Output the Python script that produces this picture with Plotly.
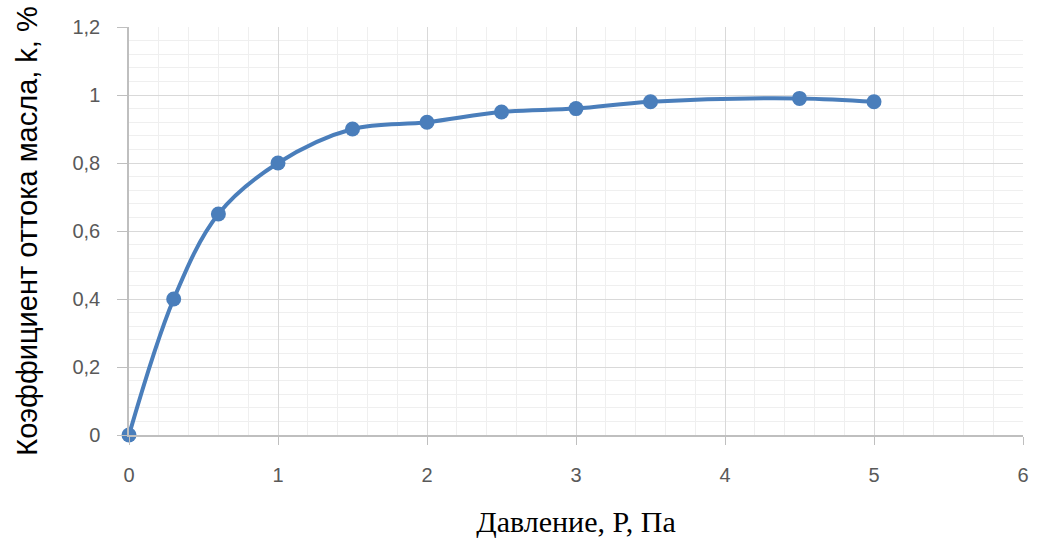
import plotly.graph_objects as go

pressure = [0, 0.3, 0.6, 1, 1.5, 2, 2.5, 3, 3.5, 4.5, 5]
coef_k = [0, 0.40, 0.65, 0.80, 0.90, 0.92, 0.95, 0.96, 0.98, 0.99, 0.98]

x_title = "Давление, P, Па"
y_title = "Коэффициент оттока масла, k, %"

blue = "#4a7ebb"

fig = go.Figure()
fig.add_trace(go.Scatter(
    x=pressure, y=coef_k, mode="lines+markers",
    line=dict(color=blue, width=4, shape="spline", smoothing=1.0),
    marker=dict(color=blue, size=15, symbol="circle"),
    showlegend=False, cliponaxis=False,
))

fig.update_layout(
    width=1037, height=542,
    margin=dict(l=129, r=8, t=27, b=107),
    paper_bgcolor="white", plot_bgcolor="white",
    separators=", ",
    font=dict(family="Liberation Sans, Arial", color="#595959", size=20),
)

fig.update_xaxes(
    range=[0, 6], dtick=1, tick0=0,
    showline=True, linecolor="#bfbfbf", linewidth=1.5,
    showgrid=True, gridcolor="#d9d9d9", gridwidth=1,
    ticks="outside", ticklen=8, tickcolor="#bfbfbf",
    ticklabelstandoff=13,
    minor=dict(dtick=0.2, showgrid=True, gridcolor="#efefef", gridwidth=1),
    zeroline=False,
    tickfont=dict(size=20, color="#595959"),
    title=dict(text=x_title, font=dict(family="Liberation Serif, Times New Roman", size=30, color="black"), standoff=26),
)
fig.update_yaxes(
    range=[0, 1.2], dtick=0.2, tick0=0,
    showline=True, linecolor="#bfbfbf", linewidth=1.5,
    showgrid=True, gridcolor="#d9d9d9", gridwidth=1,
    ticks="outside", ticklen=10, tickcolor="#bfbfbf",
    ticklabelstandoff=13,
    minor=dict(dtick=0.04, showgrid=True, gridcolor="#efefef", gridwidth=1),
    zeroline=False,
    tickfont=dict(size=20, color="#595959"),
    title=dict(text=y_title, font=dict(family="Liberation Sans, Arial", size=29, color="black"), standoff=26),
)

fig.write_html("out.html")
